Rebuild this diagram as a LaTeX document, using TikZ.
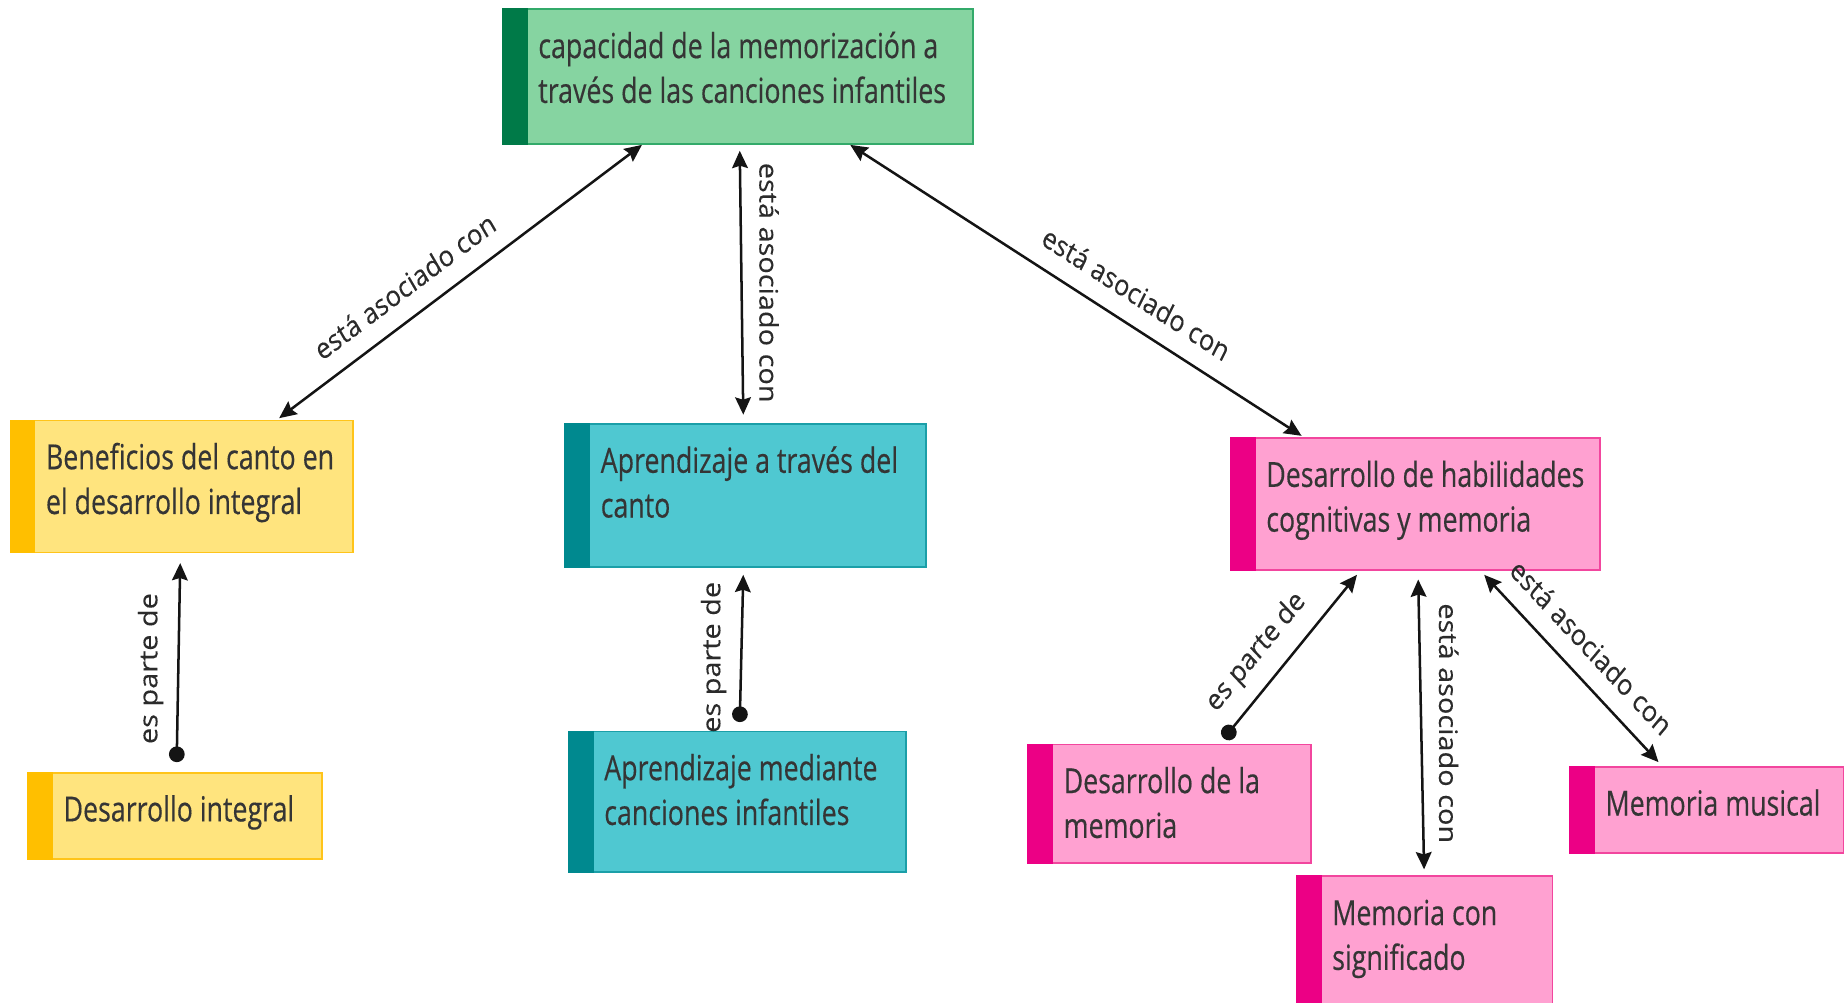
\documentclass[tikz,border=0pt]{standalone}
\usepackage{fontspec}
\usetikzlibrary{arrows.meta,calc}
\newfontfamily\boxfont[FakeStretch=0.88,FakeBold=0.4]{Open Sans}
\newfontfamily\lblfont[FakeBold=0.15]{Open Sans}
\definecolor{gfill}{HTML}{86D4A1}
\definecolor{gdraw}{HTML}{33AA6A}
\definecolor{gstrip}{HTML}{007A48}
\definecolor{yfill}{HTML}{FFE47E}
\definecolor{ydraw}{HTML}{FFC41A}
\definecolor{ystrip}{HTML}{FFBF00}
\definecolor{tfill}{HTML}{4FC8D1}
\definecolor{tdraw}{HTML}{1B9FA8}
\definecolor{tstrip}{HTML}{00898F}
\definecolor{pfill}{HTML}{FFA1D1}
\definecolor{pdraw}{HTML}{F2469E}
\definecolor{pstrip}{HTML}{EC0085}
\definecolor{txt}{HTML}{353535}
\definecolor{lbltxt}{HTML}{2B2B2B}
\definecolor{linec}{HTML}{141414}
\newcommand{\bt}[3]{\parbox[c][\dimexpr0.75pt*#2\relax][t]{\dimexpr0.852273pt*#1\relax}{\raggedright\leftskip=25.57pt\rule{0pt}{31pt}#3}}
\tikzset{
  cbox/.style n args={2}{rectangle, draw=#2, fill=#1, line width=1.2pt, inner sep=0pt, outer sep=0pt,
    anchor=north west, text=txt, font={\boxfont\fontsize{22pt}{28.5pt}\selectfont}},
  conn/.style={draw=linec, line width=1.6pt},
  bi/.style={{Stealth[length=11pt,width=10pt,inset=1.5pt]}-{Stealth[length=11pt,width=10pt,inset=1.5pt]}},
  part/.style={{Circle[length=10pt]}-{Stealth[length=11pt,width=10pt,inset=1.5pt]}},
  lbl/.style={anchor=south, inner sep=12pt, text=lbltxt, font={\lblfont\fontsize{18.4pt}{22pt}\selectfont}},
  lblp/.style={lbl, inner sep=10pt}
}
\begin{document}
\begin{tikzpicture}[x=0.852273pt,y=-0.75pt]
\begin{scope}[xscale=0.88, transform shape]
\useasboundingbox (0,0) rectangle (1568,851);
\clip (0,0) rectangle (1568,851);
% boxes
\node[cbox={gfill}{gdraw}] (top) at (427,8) {\bt{399}{114}{capacidad de la memorización a\\través de las canciones infantiles}};
\node[cbox={yfill}{ydraw}] (ben) at (9,357) {\bt{291}{112}{Beneficios del canto en\\el desarrollo integral}};
\node[cbox={yfill}{ydraw}] (din) at (24,656) {\bt{249}{73}{Desarrollo integral}};
\node[cbox={tfill}{tdraw}] (apr) at (480,360) {\bt{306}{121}{Aprendizaje a través del\\canto}};
\node[cbox={tfill}{tdraw}] (apm) at (483,621) {\bt{286}{119}{Aprendizaje mediante\\canciones infantiles}};
\node[cbox={pfill}{pdraw}] (dhc) at (1045,372) {\bt{313}{112}{Desarrollo de habilidades\\cognitivas y memoria}};
\node[cbox={pfill}{pdraw}] (ddm) at (873,632) {\bt{240}{101}{Desarrollo de la\\memoria}};
\node[cbox={pfill}{pdraw}] (mcs) at (1101,744) {\bt{217}{120}{Memoria con\\significado}};
\node[cbox={pfill}{pdraw}] (mmu) at (1333,651) {\bt{232}{73}{Memoria musical}};
% strips
\foreach \n/\c in {top/gstrip, ben/ystrip, din/ystrip, apr/tstrip, apm/tstrip, dhc/pstrip, ddm/pstrip, mcs/pstrip, mmu/pstrip}
  \fill[\c] ($(\n.north west)+(-0.8,-0.8)$) rectangle ($(\n.south west)+(21,0.8)$);
% connectors
\draw[conn,bi] ($(top.south west)!0.2957!(top.south east)+(0,1)$) --
  node[lbl,pos=0.612,rotate=33.5]{está asociado con}
  ($(ben.north west)!0.7835!(ben.north east)+(0,-2)$);
\draw[conn,bi] ($(top.south west)!0.5038!(top.south east)+(0,6)$) --
  node[lbl,pos=0.5,rotate=-90]{está asociado con}
  ($(apr.north west)!0.4935!(apr.north east)+(0,-8)$);
\draw[conn,bi] ($(top.south west)!0.739!(top.south east)+(0,1)$) --
  node[lbl,pos=0.604,rotate=-29.6]{está asociado con}
  ($(dhc.north west)!0.1917!(dhc.north east)+(0,-2)$);
\draw[conn,part] ($(din.north west)!0.506!(din.north east)+(0,-9)$) --
  node[lblp,pos=0.47,rotate=90]{es parte de}
  ($(ben.south west)!0.4948!(ben.south east)+(0,9)$);
\draw[conn,part] ($(apm.north west)!0.507!(apm.north east)+(0,-8)$) --
  node[lblp,pos=0.44,rotate=90]{es parte de}
  ($(apr.south west)!0.4935!(apr.south east)+(0,7)$);
\draw[conn,part] ($(ddm.north west)!0.6917!(ddm.north east)+(0,-5)$) --
  node[lblp,pos=0.396,rotate=47.2]{es parte de}
  ($(dhc.south west)!0.3419!(dhc.south east)+(0,4)$);
\draw[conn,bi] ($(dhc.south west)!0.508!(dhc.south east)+(0,8)$) --
  node[lbl,pos=0.496,rotate=-90]{está asociado con}
  ($(mcs.north west)!0.4977!(mcs.north east)+(0,-6)$);
\draw[conn,bi] ($(dhc.south west)!0.687!(dhc.south east)+(0,4)$) --
  node[lbl,pos=0.507,rotate=-43.4]{está asociado con}
  ($(mmu.north west)!0.3233!(mmu.north east)+(0,-4)$);
\end{scope}
\end{tikzpicture}
\end{document}
